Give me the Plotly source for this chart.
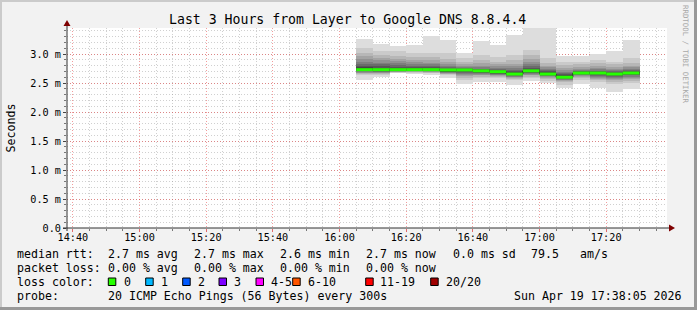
import plotly.graph_objects as go
from datetime import datetime, timedelta

# ---------------- data ----------------
bin_starts = [
    "2026-04-19 16:05:00", "2026-04-19 16:10:00", "2026-04-19 16:15:00",
    "2026-04-19 16:20:00", "2026-04-19 16:25:00", "2026-04-19 16:30:00",
    "2026-04-19 16:35:00", "2026-04-19 16:40:00", "2026-04-19 16:45:00",
    "2026-04-19 16:50:00", "2026-04-19 16:55:00", "2026-04-19 17:00:00",
    "2026-04-19 17:05:00", "2026-04-19 17:10:00", "2026-04-19 17:15:00",
    "2026-04-19 17:20:00", "2026-04-19 17:25:00",
]
step_seconds = 300

# 20 sorted ping RTTs (ms) per 5-minute step
pings = [
    [2.55, 2.63, 2.65, 2.67, 2.68, 2.69, 2.70, 2.71, 2.72, 2.73, 2.745, 2.77, 2.80, 2.83, 2.87, 2.91, 2.96, 3.02, 3.11, 3.26],
    [2.60, 2.645, 2.66, 2.67, 2.68, 2.69, 2.695, 2.70, 2.71, 2.72, 2.735, 2.76, 2.79, 2.82, 2.85, 2.89, 2.93, 2.98, 3.06, 3.17],
    [2.665, 2.68, 2.685, 2.69, 2.695, 2.70, 2.705, 2.71, 2.715, 2.72, 2.735, 2.76, 2.78, 2.81, 2.84, 2.88, 2.92, 2.97, 3.05, 3.14],
    [2.66, 2.675, 2.685, 2.695, 2.70, 2.705, 2.71, 2.715, 2.72, 2.725, 2.74, 2.76, 2.78, 2.80, 2.83, 2.86, 2.90, 2.94, 3.01, 3.155],
    [2.64, 2.665, 2.68, 2.69, 2.695, 2.70, 2.705, 2.71, 2.715, 2.72, 2.735, 2.75, 2.77, 2.79, 2.82, 2.85, 2.89, 2.94, 3.01, 3.31],
    [2.58, 2.635, 2.65, 2.66, 2.67, 2.68, 2.69, 2.695, 2.705, 2.715, 2.725, 2.735, 2.75, 2.77, 2.79, 2.82, 2.86, 2.91, 3.01, 3.24],
    [2.49, 2.55, 2.59, 2.62, 2.64, 2.66, 2.675, 2.69, 2.70, 2.715, 2.725, 2.735, 2.745, 2.76, 2.78, 2.80, 2.83, 2.87, 2.93, 3.01],
    [2.52, 2.58, 2.61, 2.63, 2.645, 2.66, 2.67, 2.68, 2.69, 2.70, 2.71, 2.72, 2.735, 2.75, 2.77, 2.80, 2.84, 2.90, 2.98, 3.22],
    [2.51, 2.58, 2.60, 2.615, 2.63, 2.64, 2.65, 2.66, 2.67, 2.68, 2.695, 2.705, 2.72, 2.74, 2.76, 2.79, 2.82, 2.87, 2.94, 3.155],
    [2.465, 2.55, 2.57, 2.585, 2.60, 2.61, 2.625, 2.635, 2.645, 2.655, 2.67, 2.69, 2.71, 2.73, 2.76, 2.79, 2.83, 2.89, 2.98, 3.33],
    [2.54, 2.58, 2.61, 2.63, 2.645, 2.655, 2.67, 2.68, 2.69, 2.705, 2.72, 2.74, 2.76, 2.79, 2.82, 2.86, 2.91, 2.98, 3.07, 3.50],
    [2.495, 2.54, 2.57, 2.59, 2.605, 2.615, 2.625, 2.635, 2.645, 2.655, 2.67, 2.685, 2.70, 2.72, 2.74, 2.77, 2.80, 2.85, 2.93, 3.50],
    [2.41, 2.47, 2.51, 2.53, 2.545, 2.56, 2.57, 2.58, 2.59, 2.60, 2.62, 2.635, 2.65, 2.67, 2.69, 2.72, 2.76, 2.81, 2.87, 2.97],
    [2.48, 2.55, 2.58, 2.60, 2.615, 2.63, 2.64, 2.65, 2.66, 2.67, 2.68, 2.69, 2.70, 2.715, 2.73, 2.75, 2.78, 2.82, 2.87, 2.97],
    [2.42, 2.52, 2.55, 2.57, 2.59, 2.61, 2.625, 2.64, 2.655, 2.67, 2.68, 2.69, 2.70, 2.715, 2.735, 2.76, 2.79, 2.84, 2.90, 3.00],
    [2.35, 2.49, 2.52, 2.55, 2.57, 2.59, 2.61, 2.625, 2.64, 2.655, 2.665, 2.68, 2.69, 2.705, 2.72, 2.745, 2.78, 2.82, 2.87, 3.05],
    [2.39, 2.50, 2.54, 2.565, 2.59, 2.61, 2.63, 2.645, 2.66, 2.675, 2.685, 2.695, 2.71, 2.725, 2.745, 2.77, 2.80, 2.85, 2.93, 3.24],
]
median_rtt = [2.73, 2.73, 2.73, 2.73, 2.73, 2.725, 2.725, 2.71, 2.695, 2.655,
              2.71, 2.655, 2.60, 2.672, 2.672, 2.655, 2.672]

y_tick_vals = [0.0, 0.5, 1.0, 1.5, 2.0, 2.5, 3.0]
y_tick_text = ["0.0", "0.5 m", "1.0 m", "1.5 m", "2.0 m", "2.5 m", "3.0 m"]

loss_labels = ["0", "1", "2", "3", "4-5", "6-10", "11-19", "20/20"]
loss_colors = ["#26ff00", "#00b8ff", "#0059ff", "#7e00ff", "#ff00ff", "#ff5500", "#ff0000", "#a00000"]

title_text = "Last 3 Hours from Layer to Google DNS 8.8.4.4"
t_start = "2026-04-19 14:38:15"
t_end = "2026-04-19 17:38:15"

# ---------------- geometry helpers ----------------
W, H = 697, 310
PL, PR, PT, PB = 67, 667, 28, 228   # plot area in pixels


def X(px):
    return (px - PL) / (PR - PL)


def Y(py):
    return (PB - py) / (PB - PT)


MONO = "DejaVu Sans Mono"

fmt = "%Y-%m-%d %H:%M:%S"
starts = [datetime.strptime(s, fmt) for s in bin_starts]
step = timedelta(seconds=step_seconds)
centers = [s + step / 2 for s in starts]
ends = [s + step for s in starts]

fig = go.Figure()

# smoke layers (outer = light, inner = dark)
n = len(pings[0])
half = n // 2
for i in range(half):
    g = int(190 / half * (half - (i + 1))) + 50
    col = "#%02x%02x%02x" % (g, g, g)
    base = [p[i] for p in pings]
    hgt = [p[n - 1 - i] - p[i] for p in pings]
    fig.add_trace(go.Bar(
        x=centers, y=hgt, base=base, width=[step_seconds * 1000] * len(centers),
        marker=dict(color=col, line=dict(width=0)), showlegend=False,
        hoverinfo="skip",
    ))

# dark step line under median
fig.add_trace(go.Scatter(
    x=starts + [ends[-1]], y=median_rtt + [median_rtt[-1]], mode="lines",
    line=dict(color="#202020", width=1, shape="hv"), showlegend=False, hoverinfo="skip",
))
# green median segments
gx, gy = [], []
for s, e, m in zip(starts, ends, median_rtt):
    gx += [s, e, None]
    gy += [m, m, None]
fig.add_trace(go.Scatter(
    x=gx, y=gy, mode="lines", line=dict(color=loss_colors[0], width=3),
    showlegend=False, hoverinfo="skip",
))

grid_minor = "rgba(150,150,150,0.45)"
grid_major = "rgba(230,60,60,0.5)"

fig.update_layout(
    width=W, height=H,
    margin=dict(l=PL, r=W - PR, t=PT, b=H - PB, pad=0),
    paper_bgcolor="#f2f2f2", plot_bgcolor="#ffffff",
    barmode="overlay", bargap=0,
    showlegend=False,
    xaxis=dict(
        type="date", range=[t_start, t_end], fixedrange=True,
        tickformat="%H:%M", tick0="2026-04-19 14:40:00", dtick=1200000,
        showgrid=True, gridcolor=grid_major, griddash="1px,2px", gridwidth=1,
        minor=dict(tick0="2026-04-19 14:40:00", dtick=300000, showgrid=True,
                   gridcolor=grid_minor, griddash="1px,2px", gridwidth=1,
                   ticks="outside", ticklen=2, tickcolor="#777"),
        ticks="outside", ticklen=3, tickcolor="rgba(222,48,48,0.7)",
        ticklabelstandoff=-3,
        showline=False, zeroline=False,
        tickfont=dict(family=MONO, size=10.2, color="#000"),
    ),
    yaxis=dict(
        range=[0, 200 / 58], fixedrange=True,
        tickmode="array", tickvals=y_tick_vals, ticktext=y_tick_text,
        showgrid=True, gridcolor=grid_major, griddash="1px,2px", gridwidth=1,
        minor=dict(tickmode="linear", tick0=0, dtick=0.1, showgrid=True,
                   gridcolor=grid_minor, griddash="1px,2px", gridwidth=1,
                   ticks="outside", ticklen=2, tickcolor="#777"),
        ticks="outside", ticklen=3, tickcolor="#444",
        showline=False, zeroline=False,
        tickfont=dict(family=MONO, size=10.2, color="#000"),
    ),
)

shapes = []
# 3D frame
shapes.append(dict(type="rect", xref="paper", yref="paper", x0=X(0), x1=X(W), y0=Y(0), y1=Y(2),
                   fillcolor="#cbcbcb", line=dict(width=0), layer="below"))
shapes.append(dict(type="rect", xref="paper", yref="paper", x0=X(0), x1=X(2), y0=Y(0), y1=Y(H),
                   fillcolor="#cbcbcb", line=dict(width=0), layer="below"))
shapes.append(dict(type="rect", xref="paper", yref="paper", x0=X(W - 3), x1=X(W), y0=Y(0), y1=Y(H),
                   fillcolor="#999999", line=dict(width=0), layer="below"))
shapes.append(dict(type="rect", xref="paper", yref="paper", x0=X(0), x1=X(W), y0=Y(H - 3), y1=Y(H),
                   fillcolor="#999999", line=dict(width=0), layer="below"))
# axes with arrows
shapes.append(dict(type="line", xref="paper", yref="paper", x0=X(67), x1=X(67), y0=Y(231), y1=Y(24),
                   line=dict(color="#303030", width=1)))
shapes.append(dict(type="line", xref="paper", yref="paper", x0=X(63), x1=X(670), y0=Y(228), y1=Y(228),
                   line=dict(color="#303030", width=1)))
shapes.append(dict(type="path", xref="paper", yref="paper",
                   path="M %f %f L %f %f L %f %f Z" % (X(67), Y(20), X(63.5), Y(26), X(70.5), Y(26)),
                   fillcolor="#7f0000", line=dict(width=0)))
shapes.append(dict(type="path", xref="paper", yref="paper",
                   path="M %f %f L %f %f L %f %f Z" % (X(675), Y(228), X(669), Y(224.5), X(669), Y(231.5)),
                   fillcolor="#7f0000", line=dict(width=0)))

# legend colour boxes
box_x = [108.3, 145.7, 182.7, 219.0, 256.0, 292.7, 365.7, 430.7]
lab_x = [123.3, 160.0, 196.7, 233.3, 269.5, 306.7, 379.3, 445.0]
for bx, c in zip(box_x, loss_colors):
    shapes.append(dict(type="rect", xref="paper", yref="paper", x0=X(bx), x1=X(bx + 7.5),
                       y0=Y(285.5), y1=Y(278), fillcolor=c, line=dict(color="#000", width=1)))

annotations = []


def txt(s, px, py, size=11.6, anchor="left", color="#000", angle=0):
    annotations.append(dict(text=s, xref="paper", yref="paper", x=X(px), y=Y(py),
                            xanchor=anchor, yanchor="middle", showarrow=False, textangle=angle,
                            font=dict(family=MONO, size=size, color=color), borderpad=0))


txt(title_text, 347.5, 19, size=13.2, anchor="center")
txt("Seconds", 10.5, 128, size=11.6, anchor="center", angle=-90)
txt("RRDTOOL / TOBI OETIKER", 686, 54, size=7.4, anchor="center", color="#a8a8a8", angle=90)

row1 = [("median rtt:", 16), ("2.7 ms avg", 107.3), ("2.7 ms max", 193.3), ("2.6 ms min", 279.3),
        ("2.7 ms now", 365), ("0.0 ms sd", 451.7), ("79.5", 530), ("am/s", 579.3)]
row2 = [("packet loss:", 16), ("0.00 % avg", 107.3), ("0.00 % max", 193.3), ("0.00 % min", 279.3),
        ("0.00 % now", 365)]
row3 = [("loss color:", 16)] + list(zip(loss_labels, lab_x))
row4 = [("probe:", 16), ("20 ICMP Echo Pings (56 Bytes) every 300s", 107.3),
        ("Sun Apr 19 17:38:05 2026", 513.3)]
for row, yy in ((row1, 253.5), (row2, 268), (row3, 282), (row4, 296.3)):
    for s, xx in row:
        txt(s, xx, yy)

fig.update_layout(shapes=shapes, annotations=annotations)
fig.write_html("out.html")
